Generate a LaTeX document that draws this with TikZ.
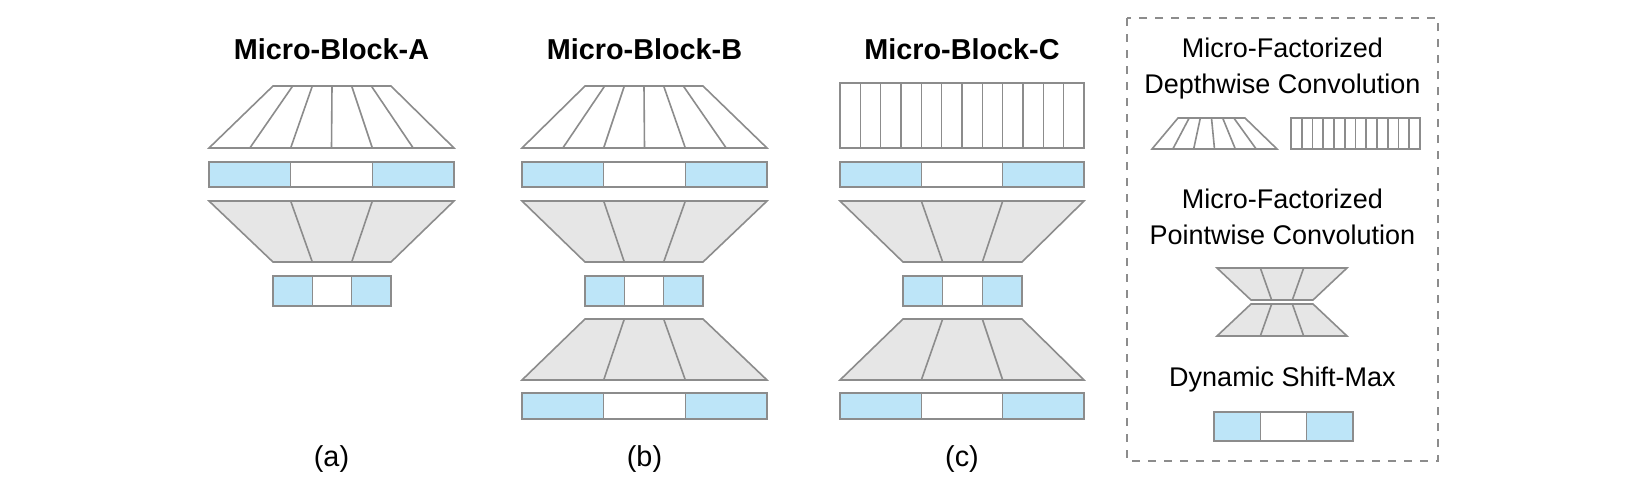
\documentclass[tikz,border=0pt]{standalone}
\usepackage{fontspec}
\setmainfont{Liberation Sans}
\usepackage{tikz}
\usetikzlibrary{calc}

\definecolor{dsmblue}{HTML}{BDE5F8}
\definecolor{pwgray}{HTML}{E6E6E6}
\definecolor{edgegray}{HTML}{8C8C8C}

\tikzset{
  part/.style={draw=edgegray, line width=0.8pt},
  blocktitle/.style={anchor=base, font=\bfseries\fontsize{14.4}{17}\selectfont},
  legendtext/.style={anchor=base, font=\fontsize{13.5}{16}\selectfont},
  subcap/.style={anchor=base, font=\fontsize{14.4}{17}\selectfont},
}

% trapezoid cut into equal slices
% #1 fill, #2 slices, #3 #4 top left/right x, #5 top y, #6 #7 bottom left/right x, #8 bottom y
\newcommand{\convtrap}[8]{%
  \draw[part, fill=#1] (#3,#5) -- (#4,#5) -- (#7,#8) -- (#6,#8) -- cycle;
  \pgfmathtruncatemacro\lastcut{#2-1}
  \foreach \k in {1,...,\lastcut}
    \draw[part] ({#3+(#4-#3)*\k/#2},#5) -- ({#6+(#7-#6)*\k/#2},#8);
}
% dynamic shift-max bar: left x, right x, top y, bottom y
\newcommand{\shiftmax}[4]{%
  \pgfmathsetmacro\cuta{#1+(#2-#1)/3}
  \pgfmathsetmacro\cutb{#1+2*(#2-#1)/3}
  \draw[part, fill=dsmblue] (#1,#3) rectangle (\cuta,#4);
  \draw[part, fill=white] (\cuta,#3) rectangle (\cutb,#4);
  \draw[part, fill=dsmblue] (\cutb,#3) rectangle (#2,#4);
}

\begin{document}
\begin{tikzpicture}[x=0.5pt, y=-0.5pt]
\useasboundingbox (0,0) rectangle (1650,494);

% Micro-Block-A
\node[blocktitle] (titleA) at (331.5,59) {Micro-Block-A};
\convtrap{white}{6}{273}{391}{86}{209}{454}{148}
\shiftmax{209}{454}{162}{187}
\convtrap{pwgray}{3}{209}{454}{201}{273}{391}{262}
\shiftmax{273}{391}{276}{306}
\node[subcap] (capA) at (331.5,466) {(a)};

% Micro-Block-B
\node[blocktitle] (titleB) at (644.5,59) {Micro-Block-B};
\convtrap{white}{6}{585}{703}{86}{522}{767}{148}
\shiftmax{522}{767}{162}{187}
\convtrap{pwgray}{3}{522}{767}{201}{585}{703}{262}
\shiftmax{585}{703}{276}{306}
\convtrap{pwgray}{3}{585}{703}{319}{522}{767}{380}
\shiftmax{522}{767}{393}{419}
\node[subcap] (capB) at (644.5,466) {(b)};

% Micro-Block-C
\node[blocktitle] (titleC) at (962,59) {Micro-Block-C};
\convtrap{white}{12}{840}{1084}{83}{840}{1084}{148}
\shiftmax{840}{1084}{162}{187}
\convtrap{pwgray}{3}{840}{1084}{201}{903}{1022}{262}
\shiftmax{903}{1022}{276}{306}
\convtrap{pwgray}{3}{903}{1022}{319}{840}{1084}{380}
\shiftmax{840}{1084}{393}{419}
\node[subcap] (capC) at (962,466) {(c)};

% legend
\draw[edgegray, line width=0.7pt, dash pattern=on 4pt off 4pt] (1127,18) rectangle (1438,461);
\node[legendtext] (dwline1) at (1282.5,57) {Micro-Factorized};
\node[legendtext] (dwline2) at (1282.5,93) {Depthwise Convolution};
\convtrap{white}{6}{1178}{1245}{118}{1152}{1277}{149}
\convtrap{white}{12}{1291}{1420}{118}{1291}{1420}{149}
\node[legendtext] (pwline1) at (1282.5,208) {Micro-Factorized};
\node[legendtext] (pwline2) at (1282.5,244) {Pointwise Convolution};
\convtrap{pwgray}{3}{1217}{1347}{268}{1251}{1313}{300}
\convtrap{pwgray}{3}{1251}{1313}{304}{1217}{1347}{336}
\node[legendtext] (dsmline) at (1282.5,386) {Dynamic Shift-Max};
\shiftmax{1214}{1353}{412}{441}
\end{tikzpicture}
\end{document}
